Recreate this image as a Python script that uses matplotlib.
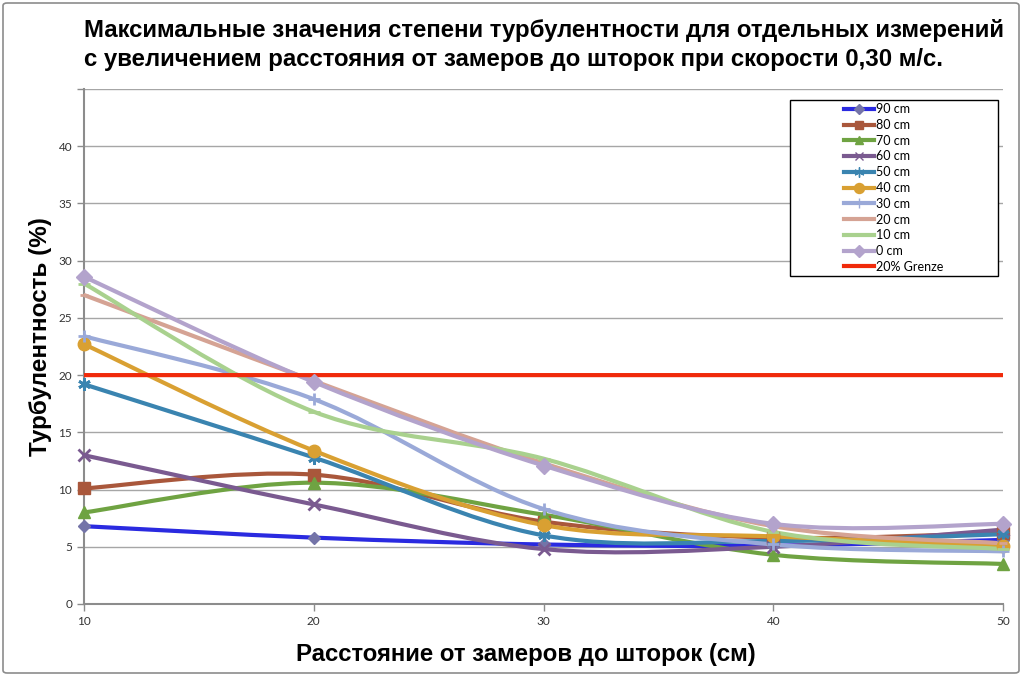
import numpy as np
import matplotlib
matplotlib.use("Agg")
import matplotlib.pyplot as plt
from matplotlib.path import Path
from matplotlib.patches import PathPatch, Rectangle, FancyBboxPatch
from matplotlib.lines import Line2D

# distances from the blinds (cm)
distance = [10, 20, 30, 40, 50]

t90 = [6.8, 5.8, 5.2, 5.1, 5.6]
t80 = [10.1, 11.3, 7.2, 5.8, 6.2]
t70 = [8.0, 10.6, 7.8, 4.3, 3.5]
t60 = [13.0, 8.7, 4.8, 5.0, 6.5]
t50 = [19.2, 12.8, 6.0, 5.5, 6.1]
t40 = [22.7, 13.4, 6.9, 5.9, 5.1]
t30 = [23.4, 17.9, 8.3, 5.2, 4.6]
t20 = [27.0, 19.5, 12.3, 6.8, 5.3]
t10 = [28.0, 16.8, 12.7, 6.3, 4.8]
t0 = [28.6, 19.4, 12.1, 7.0, 7.0]
limit = [20, 20, 20, 20, 20]

labels = ["90 cm", "80 cm", "70 cm", "60 cm", "50 cm", "40 cm",
          "30 cm", "20 cm", "10 cm", "0 cm", "20% Grenze"]
series = [t90, t80, t70, t60, t50, t40, t30, t20, t10, t0, limit]

colors = ["#2a2ae0", "#a9573b", "#6fa342", "#7a5a90", "#3a84b0", "#d9a032",
          "#9aa9d8", "#d5a394", "#a9d18e", "#b3a3cc", "#f02a0a"]
mcolors = ["#7474a8", "#a9573b", "#6fa342", "#7a5a90", "#3a84b0", "#d9a032",
           "#9aa9d8", "#d5a394", "#a9d18e", "#b3a3cc", "#f02a0a"]
markers = ["D", "s", "^", "x", (6, 2, 0), "o", "+", "_", "_", "D", None]
msizes = [6, 8, 8, 8, 9, 9, 9, 6, 9, 8, 0]


def smooth_path(x, y):
    # excel-like smoothed line: bezier segments through the points
    pts = np.column_stack([x, y]).astype(float)
    ext = np.vstack([pts[0], pts, pts[-1]])
    verts = [pts[0]]
    codes = [Path.MOVETO]
    for i in range(len(pts) - 1):
        p0, p1, p2, p3 = ext[i], ext[i + 1], ext[i + 2], ext[i + 3]
        verts += [p1 + (p2 - p0) / 6.0, p2 - (p3 - p1) / 6.0, p2]
        codes += [Path.CURVE4] * 3
    return Path(verts, codes)


plt.rcParams['font.family'] = ['Liberation Sans', 'DejaVu Sans']

fig = plt.figure(figsize=(10.24, 6.76), dpi=100)
ax = fig.add_axes([84 / 1024, 1 - 604 / 676, (1003 - 84) / 1024, (604 - 89) / 676])

for y, c, mc, m, ms in zip(series, colors, mcolors, markers, msizes):
    ax.add_patch(PathPatch(smooth_path(distance, y), facecolor="none",
                           edgecolor=c, lw=3, capstyle="round", zorder=3))
    if m is not None:
        ax.plot(distance, y, linestyle="none", marker=m, markersize=ms,
                color=mc, markeredgewidth=2 if m in ("x", "+", "_") or isinstance(m, tuple) else 1,
                zorder=4, clip_on=False)

ax.set_xlim(10, 50)
ax.set_ylim(0, 45)
ax.set_xticks(distance)
ax.set_yticks(range(0, 46, 5))
ax.set_yticklabels([str(v) for v in range(0, 41, 5)] + [""])
ax.grid(axis="y", color="#a6a6a6", lw=1)
ax.set_axisbelow(True)
for s in ("top", "right"):
    ax.spines[s].set_visible(False)
for s in ("left", "bottom"):
    ax.spines[s].set_color("#8c8c8c")
    ax.spines[s].set_linewidth(1.5)
ax.tick_params(colors="#8c8c8c", length=5, width=1)
for lab in ax.get_xticklabels() + ax.get_yticklabels():
    lab.set_color("#333333")
    lab.set_fontsize(8.5)
    lab.set_family(["Lato", "DejaVu Sans"])

ax.set_xlabel("Расстояние от замеров до шторок (см)", fontsize=17.3,
              fontweight="bold", labelpad=10)
ax.xaxis.set_label_coords(0.481, -0.075)
ax.set_ylabel("Турбулентность (%)", fontsize=17.5, fontweight="bold")
ax.yaxis.set_label_coords(-0.035, 0.52)

fig.text(84 / 1024, 1 - 45 / 676,
         "Максимальные значения степени турбулентности для отдельных измерений\n"
         "с увеличением расстояния от замеров до шторок при скорости 0,30 м/с.",
         fontsize=17.3, fontweight="bold", va="center", ha="left", linespacing=1.3)

# legend box
lx0, ly0, lw_, lh = 790 / 1024, 1 - 276 / 676, 208 / 1024, 176 / 676
fig.add_artist(Rectangle((lx0, ly0), lw_, lh, transform=fig.transFigure,
                         facecolor="white", edgecolor="black", lw=1, zorder=5))
handles = [Line2D([], [], color=c, lw=3, marker=m, markersize=ms * 0.8,
                  markerfacecolor=mc, markeredgecolor=mc)
           for c, mc, m, ms in zip(colors, mcolors, markers, msizes)]
leg = fig.legend(handles, labels, loc="center",
                 bbox_to_anchor=(lx0, ly0, lw_, lh), frameon=False,
                 prop={"family": ["Lato", "DejaVu Sans"], "size": 9},
                 handlelength=2.4, handletextpad=0.15, labelspacing=0.3,
                 borderaxespad=0)
leg.set_zorder(6)

# outer chart border
fig.add_artist(FancyBboxPatch((3 / 1024, 3 / 676), 1016 / 1024, 670 / 676,
                              boxstyle="round,pad=0,rounding_size=0.004",
                              transform=fig.transFigure, facecolor="none",
                              edgecolor="#8c8c8c", lw=1.2))

fig.savefig("out.png", dpi=100)
